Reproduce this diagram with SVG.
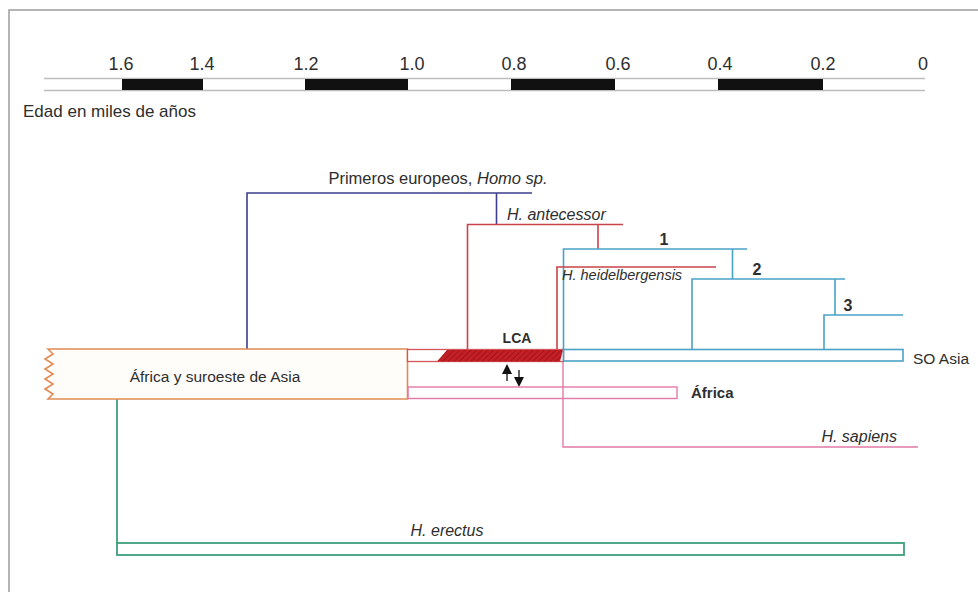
<svg xmlns="http://www.w3.org/2000/svg" width="978" height="592" viewBox="0 0 978 592">
<defs>
<style>
text{font-family:"Liberation Sans",Arial,sans-serif;fill:#2e2e2e}
.num{font-size:18px;text-anchor:middle}
.lbl{font-size:16px}
.it{font-style:italic}
.b{font-weight:bold}
.navy{stroke:#3d3f8e;stroke-width:1.6;fill:none}
.red{stroke:#c9444a;stroke-width:1.6;fill:none}
.cyan{stroke:#4aa2c6;stroke-width:1.6;fill:none}
.pink{stroke:#e17aa8;stroke-width:1.4;fill:none}
.green{stroke:#3c9f7a;stroke-width:1.8;fill:none}
.orange{stroke:#e08b55;stroke-width:1.6;fill:#fffdfa}
.bar{fill:#111}
.sline{stroke:#bdbdbd;stroke-width:1.4}
</style>
<pattern id="hatch" width="4" height="4" patternUnits="userSpaceOnUse" patternTransform="rotate(45)">
<rect width="4" height="4" fill="#c41f26"/>
<line x1="0" y1="0" x2="0" y2="4" stroke="#8f1016" stroke-width="1.4"/>
</pattern>
<marker id="ah" viewBox="0 0 10 10" refX="4" refY="5" markerWidth="10" markerHeight="10" orient="auto-start-reverse" markerUnits="userSpaceOnUse">
<path d="M0 0 L10 5 L0 10 Z" fill="#111"/>
</marker>
</defs>
<rect x="9" y="10" width="990" height="600" fill="#fff" stroke="#a3a3a3" stroke-width="1.6"/>

<g id="time-scale">
<line class="sline" x1="44" y1="78.5" x2="925" y2="78.5"/>
<line class="sline" x1="44" y1="90.5" x2="925" y2="90.5"/>
<rect class="bar" x="122" y="79" width="81" height="11"/>
<rect class="bar" x="305" y="79" width="103" height="11"/>
<rect class="bar" x="511" y="79" width="104" height="11"/>
<rect class="bar" x="718" y="79" width="105" height="11"/>
<text class="num" x="121" y="70">1.6</text>
<text class="num" x="202" y="70">1.4</text>
<text class="num" x="306" y="70">1.2</text>
<text class="num" x="412" y="70">1.0</text>
<text class="num" x="514" y="70">0.8</text>
<text class="num" x="618" y="70">0.6</text>
<text class="num" x="720" y="70">0.4</text>
<text class="num" x="823" y="70">0.2</text>
<text class="num" x="923" y="70">0</text>
<text class="lbl" x="23" y="117" style="font-size:17px">Edad en miles de años</text>
</g>

<g id="connectors">
<path class="navy" d="M247 349 V193 H532 M496.5 193 V224"/>
<path class="red" d="M467.5 349 V224.5 H623 M598 224.5 V249"/>
<path class="cyan" d="M563.5 349 V249 H747 M732.5 249 V279"/>
<path class="red" d="M557 350 V267 H716"/>
<path class="cyan" d="M692 349 V279 H845 M835 279 V315"/>
<path class="cyan" d="M824 349 V315 H903"/>
<path class="pink" d="M563 361 V447 H918"/>
<path class="green" d="M117 399 V543"/>
<line x1="507" y1="381" x2="507" y2="370" stroke="#111" stroke-width="1.3" marker-end="url(#ah)"/>
<line x1="519" y1="370" x2="519" y2="381" stroke="#111" stroke-width="1.3" marker-end="url(#ah)"/>
</g>

<g id="node-primeros-europeos">
<text class="lbl" x="438" y="184" text-anchor="middle" style="font-size:16.5px">Primeros europeos, <tspan class="it">Homo sp.</tspan></text>
</g>
<g id="node-antecessor">
<text class="lbl it" x="507" y="220">H. antecessor</text>
</g>
<g id="node-heidelbergensis">
<text class="it" x="562" y="280" style="font-size:14.5px">H. heidelbergensis</text>
</g>
<g id="node-1"><text class="lbl b" x="664" y="245" text-anchor="middle">1</text></g>
<g id="node-2"><text class="lbl b" x="757" y="275" text-anchor="middle">2</text></g>
<g id="node-3"><text class="lbl b" x="848" y="311" text-anchor="middle">3</text></g>

<g id="node-africa-suroeste-asia">
<path class="orange" d="M48 349 H407.5 V399 H48 L53 394 L45 389 L53 384 L45 379 L53 374 L45 369 L53 364 L45 359 L53 354 Z"/>
<text class="lbl" x="215" y="382" text-anchor="middle" style="font-size:15.5px">África y suroeste de Asia</text>
</g>

<g id="node-lca">
<rect x="407.5" y="349.5" width="156" height="12" fill="#fff" stroke="#d2555b" stroke-width="1.3"/>
<polygon points="447,350 563,350 560,361.5 437,361.5" fill="url(#hatch)"/>
<text class="b" x="517" y="343" text-anchor="middle" style="font-size:14px">LCA</text>
</g>

<g id="node-so-asia">
<rect class="cyan" x="563.5" y="349.5" width="339.5" height="11.5" fill="#fff"/>
<text class="lbl" x="913" y="364" style="font-size:15.5px">SO Asia</text>
</g>

<g id="node-africa">
<rect class="pink" x="408" y="387" width="269" height="11.5"/>
<text class="lbl b" x="691" y="398" style="font-size:15px">África</text>
</g>

<g id="node-sapiens">
<text class="lbl it" x="897" y="442" text-anchor="end">H. sapiens</text>
</g>

<g id="node-erectus">
<rect class="green" x="117" y="543" width="787" height="12"/>
<text class="lbl it" x="447" y="536" text-anchor="middle">H. erectus</text>
</g>
</svg>
